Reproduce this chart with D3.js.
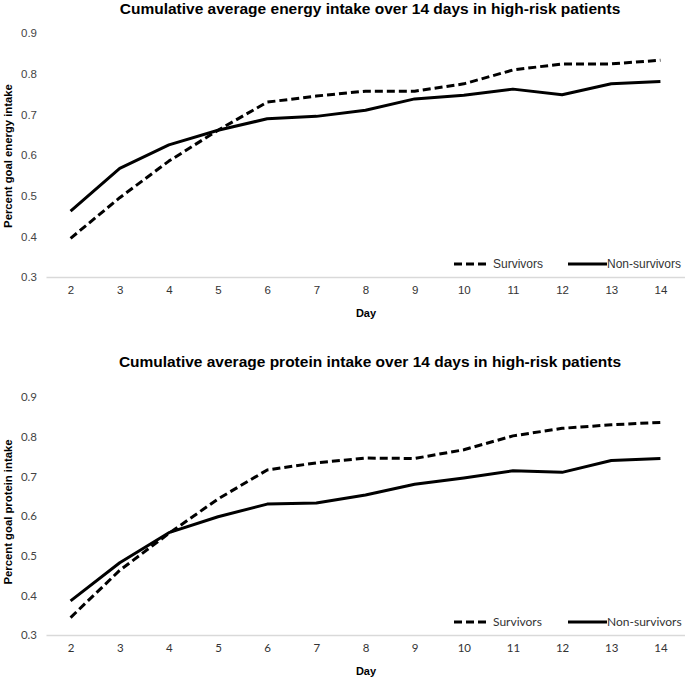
<!DOCTYPE html>
<html><head><meta charset="utf-8">
<script src="https://cdn.jsdelivr.net/npm/d3@7"></script>
<style>body{margin:0;background:#fff}svg{display:block}</style>
</head><body>
<svg id="c" width="685" height="678"></svg>
<script>
const days = [2,3,4,5,6,7,8,9,10,11,12,13,14];
const yTicks = [0.3,0.4,0.5,0.6,0.7,0.8,0.9];
const energySurvivors    = [0.395,0.495,0.585,0.661,0.730,0.745,0.757,0.757,0.775,0.809,0.824,0.824,0.833];
const energyNonSurvivors = [0.462,0.567,0.625,0.661,0.689,0.695,0.710,0.738,0.747,0.762,0.748,0.775,0.781];
const proteinSurvivors    = [0.344,0.463,0.556,0.643,0.716,0.734,0.746,0.745,0.767,0.802,0.821,0.830,0.836];
const proteinNonSurvivors = [0.386,0.482,0.558,0.598,0.630,0.633,0.653,0.680,0.696,0.714,0.710,0.740,0.745];
const seriesNames = ["Survivors","Non-survivors"];

const svg = d3.select("#c");
const x = d3.scalePoint().domain(days).range([46,685]).padding(0.5);

function panel(cfg){
  const g = svg.append("g");
  const y = d3.scaleLinear().domain([0.3,0.9]).range([cfg.y0, cfg.y1]);
  const font = cfg.font;
  // title
  g.append("text").attr("x",370).attr("y",cfg.titleY).attr("text-anchor","middle")
    .attr("font-family","Liberation Sans, Arial, sans-serif").attr("font-weight","bold")
    .attr("font-size",15.5).attr("fill","#000").text(cfg.title);
  // y ticks
  const ya = d3.axisLeft(y).tickValues(yTicks).tickFormat(d3.format(".1f")).tickSize(0).tickPadding(0);
  const yg = g.append("g").attr("transform","translate(37,0)").call(ya);
  yg.select(".domain").remove();
  yg.selectAll("text").attr("font-family",font).attr("font-size",11.5).attr("fill","#444");
  // x axis
  const xa = d3.axisBottom(x).tickSize(0).tickPadding(9);
  const xg = g.append("g").attr("transform",`translate(0,${cfg.y0})`).call(xa);
  xg.select(".domain").attr("stroke","#d9d9d9").attr("stroke-width",1.3);
  xg.selectAll("text").attr("font-family",font).attr("font-size",11.5).attr("fill","#333");
  // axis titles
  g.append("text").attr("x",366).attr("y",cfg.y0+40).attr("text-anchor","middle")
    .attr("font-family","Liberation Sans, Arial, sans-serif").attr("font-weight","bold")
    .attr("font-size",11).text("Day");
  g.append("text").attr("transform",`translate(12,${cfg.yTitleC}) rotate(-90)`).attr("text-anchor","middle")
    .attr("font-family","Liberation Sans, Arial, sans-serif").attr("font-weight","bold")
    .attr("font-size",11.3).text(cfg.yTitle);
  // lines
  const line = d3.line().x((d,i)=>x(days[i])).y(d=>y(d));
  g.append("path").datum(cfg.nonsurv).attr("d",line).attr("fill","none")
    .attr("stroke","#000").attr("stroke-width",3).attr("stroke-linejoin","round");
  g.append("path").datum(cfg.surv).attr("d",line).attr("fill","none")
    .attr("stroke","#000").attr("stroke-width",3).attr("stroke-dasharray","8,4").attr("stroke-linejoin","round");
  // legend
  const ly = cfg.legendY;
  g.append("line").attr("x1",454).attr("x2",489).attr("y1",ly).attr("y2",ly)
    .attr("stroke","#000").attr("stroke-width",3).attr("stroke-dasharray","8,4");
  g.append("text").attr("x",493).attr("y",ly+4).attr("font-family",font).attr("font-size",12).attr("fill","#333").text(seriesNames[0]);
  g.append("line").attr("x1",568).attr("x2",607).attr("y1",ly).attr("y2",ly)
    .attr("stroke","#000").attr("stroke-width",3);
  g.append("text").attr("x",607).attr("y",ly+4).attr("font-family",font).attr("font-size",12).attr("fill","#333").text(seriesNames[1]);
}

panel({title:"Cumulative average energy intake over 14 days in high-risk patients", titleY:14,
  y0:277, y1:33, yTitle:"Percent goal energy intake", yTitleC:156, legendY:264,
  surv:energySurvivors, nonsurv:energyNonSurvivors, font:"Liberation Sans, Arial, sans-serif"});
panel({title:"Cumulative average protein intake over 14 days in high-risk patients", titleY:367,
  y0:635, y1:397, yTitle:"Percent goal protein intake", yTitleC:512, legendY:622,
  surv:proteinSurvivors, nonsurv:proteinNonSurvivors, font:"Lato, Open Sans, sans-serif"});
</script>
</body></html>
